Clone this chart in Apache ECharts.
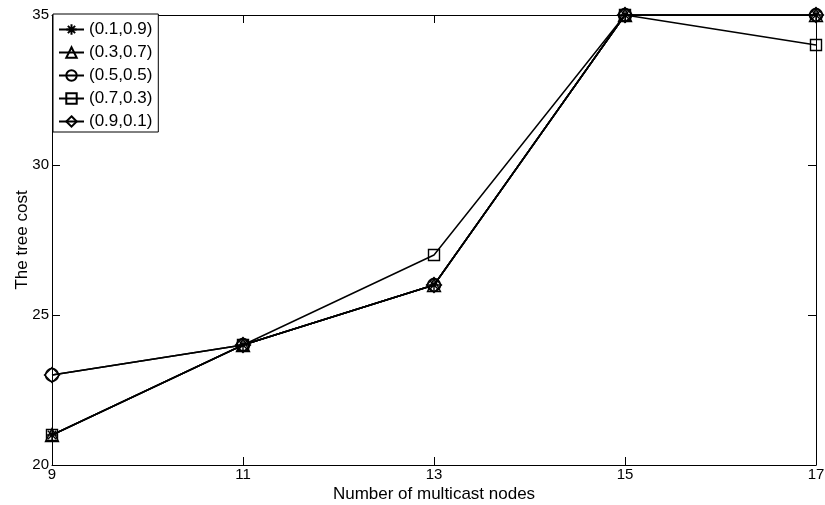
<!DOCTYPE html>
<html>
<head>
<meta charset="utf-8">
<script src="https://cdn.jsdelivr.net/npm/echarts@6/dist/echarts.min.js"></script>
<style>
  html, body { margin: 0; padding: 0; background: #fff; }
  #chart { width: 825px; height: 505px; }
</style>
</head>
<body>
<div id="chart"></div>
<script>
// Multicast tree cost for different weight pairs
const nodeCounts = ['9', '11', '13', '15', '17'];
const seriesNames = ['(0.1,0.9)', '(0.3,0.7)', '(0.5,0.5)', '(0.7,0.3)', '(0.9,0.1)'];
const cost01_09 = [21, 24, 26, 35, 35];
const cost03_07 = [21, 24, 26, 35, 35];
const cost05_05 = [23, 24, 26, 35, 35];
const cost07_03 = [21, 24, 27, 35, 34];
const cost09_01 = [23, 24, 26, 35, 35];
const yTicks = [20, 25, 30, 35];

const seriesValues = [cost01_09, cost03_07, cost05_05, cost07_03, cost09_01];
const asterisk = 'path://M-1,0L1,0M0,-1L0,1M-0.7,-0.7L0.7,0.7M-0.7,0.7L0.7,-0.7';
const symbols = [asterisk, 'triangle', 'circle', 'rect', 'diamond'];
const symbolSizes = [12, 13, 13, 11, 15];

const font = 'Liberation Sans, Arial, sans-serif';
const chart = echarts.init(document.getElementById('chart'), null, { renderer: 'canvas' });

const frameAxis = {
  axisLine: { show: true, lineStyle: { color: '#000', width: 1 } },
  axisTick: { show: true, inside: true, length: 8, lineStyle: { color: '#000' } },
  splitLine: { show: false }
};

chart.setOption({
  animation: false,
  backgroundColor: '#fff',
  grid: { left: 52, right: 9, top: 15, bottom: 40, containLabel: false, outerBoundsMode: 'none' },
  legend: {
    orient: 'vertical',
    left: 53,
    top: 14,
    data: seriesNames,
    itemWidth: 25,
    itemHeight: 13,
    itemGap: 6,
    padding: [7, 6, 2, 5],
    borderColor: '#000',
    borderWidth: 1,
    backgroundColor: '#fff',
    textStyle: { color: '#000', fontSize: 17, fontFamily: font },
    z: 10
  },
  xAxis: [
    Object.assign({
      type: 'category',
      data: nodeCounts,
      boundaryGap: false,
      name: 'Number of multicast nodes',
      nameLocation: 'middle',
      nameGap: 21,
      nameMoveOverlap: false,
      nameTextStyle: { color: '#000', fontSize: 17, fontFamily: font },
      axisLabel: { color: '#000', fontSize: 15, fontFamily: font, margin: 2 }
    }, frameAxis),
    Object.assign({
      type: 'category',
      data: nodeCounts,
      boundaryGap: false,
      position: 'top',
      axisLabel: { show: false }
    }, frameAxis)
  ],
  yAxis: [
    Object.assign({
      type: 'value',
      min: yTicks[0],
      max: yTicks[yTicks.length - 1],
      interval: 5,
      name: 'The tree cost',
      nameLocation: 'middle',
      nameGap: 21,
      nameMoveOverlap: false,
      nameTextStyle: { color: '#000', fontSize: 17, fontFamily: font },
      axisLabel: { color: '#000', fontSize: 15, fontFamily: font, margin: 3 }
    }, frameAxis),
    Object.assign({
      type: 'value',
      min: yTicks[0],
      max: yTicks[yTicks.length - 1],
      interval: 5,
      position: 'right',
      axisLabel: { show: false }
    }, frameAxis)
  ],
  series: seriesNames.map((name, i) => ({
    name: name,
    type: 'line',
    xAxisIndex: 0,
    yAxisIndex: 0,
    data: seriesValues[i],
    symbol: symbols[i],
    symbolSize: symbolSizes[i],
    showAllSymbol: true,
    lineStyle: { color: '#000', width: 1.5 },
    itemStyle: { color: 'rgba(0,0,0,0)', borderColor: '#000', borderWidth: 1.4 },
    emphasis: { disabled: true }
  }))
});
</script>
</body>
</html>
